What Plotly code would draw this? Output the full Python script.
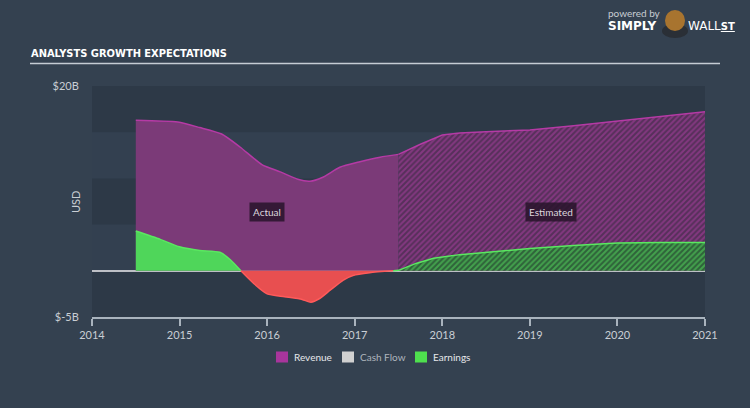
import plotly.graph_objects as go

# ---------------- data (USD billions) ----------------
rev_act_x = [2014.5, 2014.98, 2015.23, 2015.48, 2015.69, 2015.94, 2016.15, 2016.35, 2016.49, 2016.63, 2016.83, 2017.06, 2017.29, 2017.5]
rev_act = [16.3, 16.1, 15.5, 14.8, 13.4, 11.5, 10.7, 9.9, 9.7, 10.1, 11.2, 11.8, 12.3, 12.6]

rev_est_x = [2017.5, 2017.75, 2018.0, 2018.2, 2018.5, 2019.0, 2019.5, 2020.0, 2020.5, 2021.0]
rev_est = [12.6, 13.7, 14.7, 14.9, 15.05, 15.25, 15.7, 16.2, 16.7, 17.2]

earn_pos_x = [2014.5, 2014.78, 2015.0, 2015.23, 2015.46, 2015.58, 2015.7]
earn_pos = [4.3, 3.4, 2.6, 2.2, 2.0, 1.2, 0.0]

earn_neg_x = [2015.7, 2015.85, 2016.0, 2016.2, 2016.4, 2016.5, 2016.6, 2016.72, 2016.87, 2016.98, 2017.17, 2017.44]
earn_neg = [0.0, -1.4, -2.5, -2.8, -3.1, -3.4, -3.0, -2.1, -1.0, -0.5, -0.2, 0.0]

earn_est_x = [2017.44, 2017.5, 2017.7, 2017.9, 2018.2, 2018.6, 2019.0, 2019.5, 2020.0, 2020.5, 2021.0]
earn_est = [0.0, 0.05, 0.8, 1.35, 1.75, 2.1, 2.4, 2.75, 3.0, 3.05, 3.05]

x_ticks = [2014, 2015, 2016, 2017, 2018, 2019, 2020, 2021]
y_ticks = [20, -5]
y_tick_text = ["$20B", "$-5B"]

# ---------------- layout geometry ----------------
W, H = 750, 408
L, R, T, B = 92, 45, 86, 91
PW, PH = W - L - R, H - T - B


def px(x):
    return (x - L) / PW


def py(y):
    return (H - B - y) / PH


PAPER = "#344150"
PLOT_LIGHT = "#334050"
PLOT_DARK = "#2d3947"
REV_FILL = "#7b3a78"
REV_LINE = "#b53aa5"
EARN_FILL = "#4fd65a"
EARN_LINE = "#5ae860"
NEG_FILL = "#e84f50"
NEG_LINE = "#ff5a5a"
TXT = "#c9ced4"
FONT = "Lato, 'Open Sans', sans-serif"

fig = go.Figure()

# revenue actual
fig.add_trace(go.Scatter(x=rev_act_x, y=rev_act, mode="lines", fill="tozeroy",
                         fillcolor=REV_FILL, line=dict(color=REV_LINE, width=1.5, shape="spline", smoothing=0.6),
                         showlegend=False, hoverinfo="skip"))
# revenue estimated (hatched)
fig.add_trace(go.Scatter(x=rev_est_x, y=rev_est, mode="lines", fill="tozeroy",
                         fillcolor="#5a305c",
                         fillpattern=dict(shape="/", bgcolor="#56305a", fgcolor="#b040a6", size=4, solidity=0.5),
                         line=dict(color=REV_LINE, width=1.5),
                         showlegend=False, hoverinfo="skip"))
# earnings actual positive
fig.add_trace(go.Scatter(x=earn_pos_x, y=earn_pos, mode="lines", fill="tozeroy",
                         fillcolor=EARN_FILL, line=dict(color=EARN_LINE, width=1.5, shape="spline", smoothing=0.6),
                         showlegend=False, hoverinfo="skip"))
# earnings actual negative
fig.add_trace(go.Scatter(x=earn_neg_x, y=earn_neg, mode="lines", fill="tozeroy",
                         fillcolor=NEG_FILL, line=dict(color=NEG_LINE, width=1.5, shape="spline", smoothing=0.6),
                         showlegend=False, hoverinfo="skip"))
# earnings estimated (hatched)
fig.add_trace(go.Scatter(x=earn_est_x, y=earn_est, mode="lines", fill="tozeroy",
                         fillcolor="#33693d",
                         fillpattern=dict(shape="/", bgcolor="#2f623a", fgcolor="#58e060", size=4, solidity=0.5),
                         line=dict(color=EARN_LINE, width=1.5),
                         showlegend=False, hoverinfo="skip"))

# background bands
shapes = []
for y0, y1 in [(15, 20), (5, 10), (-5, 0)]:
    shapes.append(dict(type="rect", xref="paper", yref="y", x0=0, x1=1, y0=y0, y1=y1,
                       fillcolor=PLOT_DARK, line=dict(width=0), layer="below"))
# title underline
shapes.append(dict(type="line", xref="paper", yref="paper", x0=px(30), x1=px(720), y0=py(63.5), y1=py(63.5),
                   line=dict(color="#c5ccd4", width=1.5)))
# legend squares
for x0, c in [(276, "#a8359c"), (342, "#d0d0d0"), (415, "#4ee04e")]:
    shapes.append(dict(type="rect", xref="paper", yref="paper", x0=px(x0), x1=px(x0 + 12),
                       y0=py(351.5), y1=py(362.5), fillcolor=c, line=dict(width=0)))
# logo mascot (simplified)
shapes.append(dict(type="circle", xref="paper", yref="paper", x0=px(662), x1=px(688), y0=py(38), y1=py(24),
                   fillcolor="#2a2f36", line=dict(width=0)))
shapes.append(dict(type="circle", xref="paper", yref="paper", x0=px(665), x1=px(685), y0=py(31), y1=py(10),
                   fillcolor="#a8742f", line=dict(width=0)))

annotations = [
    dict(text="<b>ANALYSTS GROWTH EXPECTATIONS</b>", xref="paper", yref="paper", x=px(29), y=py(53),
         xanchor="left", yanchor="middle", showarrow=False,
         font=dict(family="DejaVu Sans Condensed", size=11, color="#ffffff")),
    dict(text="USD", xref="paper", yref="paper", x=px(75), y=py(202), textangle=-90,
         xanchor="center", yanchor="middle", showarrow=False, font=dict(family=FONT, size=11, color=TXT)),
    dict(text="Actual", xref="x", yref="y", x=2016.0, y=6.35, showarrow=False,
         bgcolor="rgba(40,20,42,0.85)", borderpad=3, font=dict(family=FONT, size=10, color="#ddd6dd")),
    dict(text="Estimated", xref="x", yref="y", x=2019.24, y=6.35, showarrow=False,
         bgcolor="rgba(40,20,42,0.85)", borderpad=3, font=dict(family=FONT, size=10, color="#ddd6dd")),
    dict(text="Revenue", xref="paper", yref="paper", x=px(292), y=py(357), xanchor="left", yanchor="middle",
         showarrow=False, font=dict(family=FONT, size=10, color="#e6e8eb")),
    dict(text="Cash Flow", xref="paper", yref="paper", x=px(358), y=py(357), xanchor="left", yanchor="middle",
         showarrow=False, font=dict(family=FONT, size=10, color="#aeb5bd")),
    dict(text="Earnings", xref="paper", yref="paper", x=px(431), y=py(357), xanchor="left", yanchor="middle",
         showarrow=False, font=dict(family=FONT, size=10, color="#e6e8eb")),
    dict(text="powered by", xref="paper", yref="paper", x=px(606), y=py(13), xanchor="left", yanchor="middle",
         showarrow=False, font=dict(family=FONT, size=10, color="#c8cdd3")),
    dict(text="<b>SIMPLY</b>", xref="paper", yref="paper", x=px(606), y=py(26), xanchor="left", yanchor="middle",
         showarrow=False, font=dict(family="DejaVu Sans", size=12, color="#ffffff")),
    dict(text="WALL<b><u><span style='font-size:10px'>ST</span></u></b>", xref="paper", yref="paper",
         x=px(686), y=py(26), xanchor="left", yanchor="middle",
         showarrow=False, font=dict(family="DejaVu Sans", size=12, color="#ffffff")),
]

fig.update_layout(
    width=W, height=H,
    margin=dict(l=L, r=R, t=T, b=B),
    paper_bgcolor=PAPER, plot_bgcolor=PLOT_LIGHT,
    shapes=shapes, annotations=annotations,
    showlegend=False,
    font=dict(family=FONT, color=TXT),
    xaxis=dict(range=[2014, 2021], tickvals=x_ticks, ticktext=[str(v) for v in x_ticks],
               showgrid=False, zeroline=False, showline=True, linecolor="#a9b3bd", linewidth=1.5,
               ticks="outside", ticklen=7, tickcolor="#a9b3bd", tickwidth=1.5,
               tickfont=dict(family=FONT, size=11, color=TXT), fixedrange=True),
    yaxis=dict(range=[-5, 20], tickvals=y_ticks, ticktext=y_tick_text, showgrid=False,
               zeroline=True, zerolinecolor="rgba(215,215,220,0.85)", zerolinewidth=1.5,
               showline=False, ticks="outside", ticklen=10, tickcolor="rgba(0,0,0,0)",
               tickfont=dict(family=FONT, size=11, color=TXT), layer="above traces", fixedrange=True),
)

fig.write_html("out.html")
